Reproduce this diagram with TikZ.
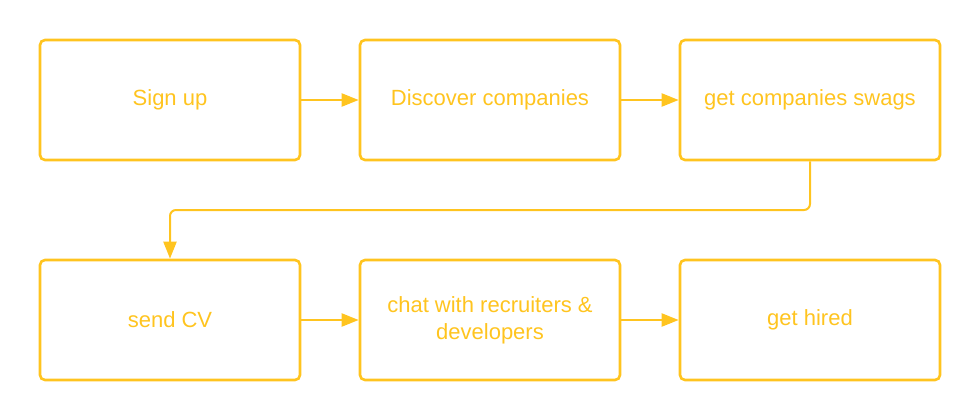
\documentclass[tikz,border=0pt]{standalone}
\usepackage{fontspec}
\setmainfont{Liberation Sans}
\usetikzlibrary{arrows.meta}
\definecolor{gold}{HTML}{FFC41F}
\begin{document}
\begin{tikzpicture}[x=1pt,y=-1pt,
  stepbox/.style={draw=gold,line width=2.6pt,rounded corners=5pt,minimum width=260pt,minimum height=120pt,text=gold,font=\fontsize{22}{27}\selectfont,align=center,inner sep=0pt},
  conn/.style={draw=gold,line width=2pt,-{Triangle[length=17pt,width=13pt]}}]
\useasboundingbox (0,0) rectangle (980,420);
\node[stepbox] (a) at (170,100) {Sign up};
\node[stepbox] (b) at (490,100) {Discover companies};
\node[stepbox] (c) at (810,100) {get companies swags};
\node[stepbox] (d) at (170,320) {send CV};
\node[stepbox] (e) at (490,320) {chat with recruiters \&\\developers};
\node[stepbox] (f) at (810,320) {get hired};
\draw[conn] (a) -- (b);
\draw[conn] (b) -- (c);
\draw[conn] (d) -- (e);
\draw[conn] (e) -- (f);
\draw[conn,rounded corners=6pt] (c.south) -- (810,210) -- (170,210) -- (d.north);
\end{tikzpicture}
\end{document}
